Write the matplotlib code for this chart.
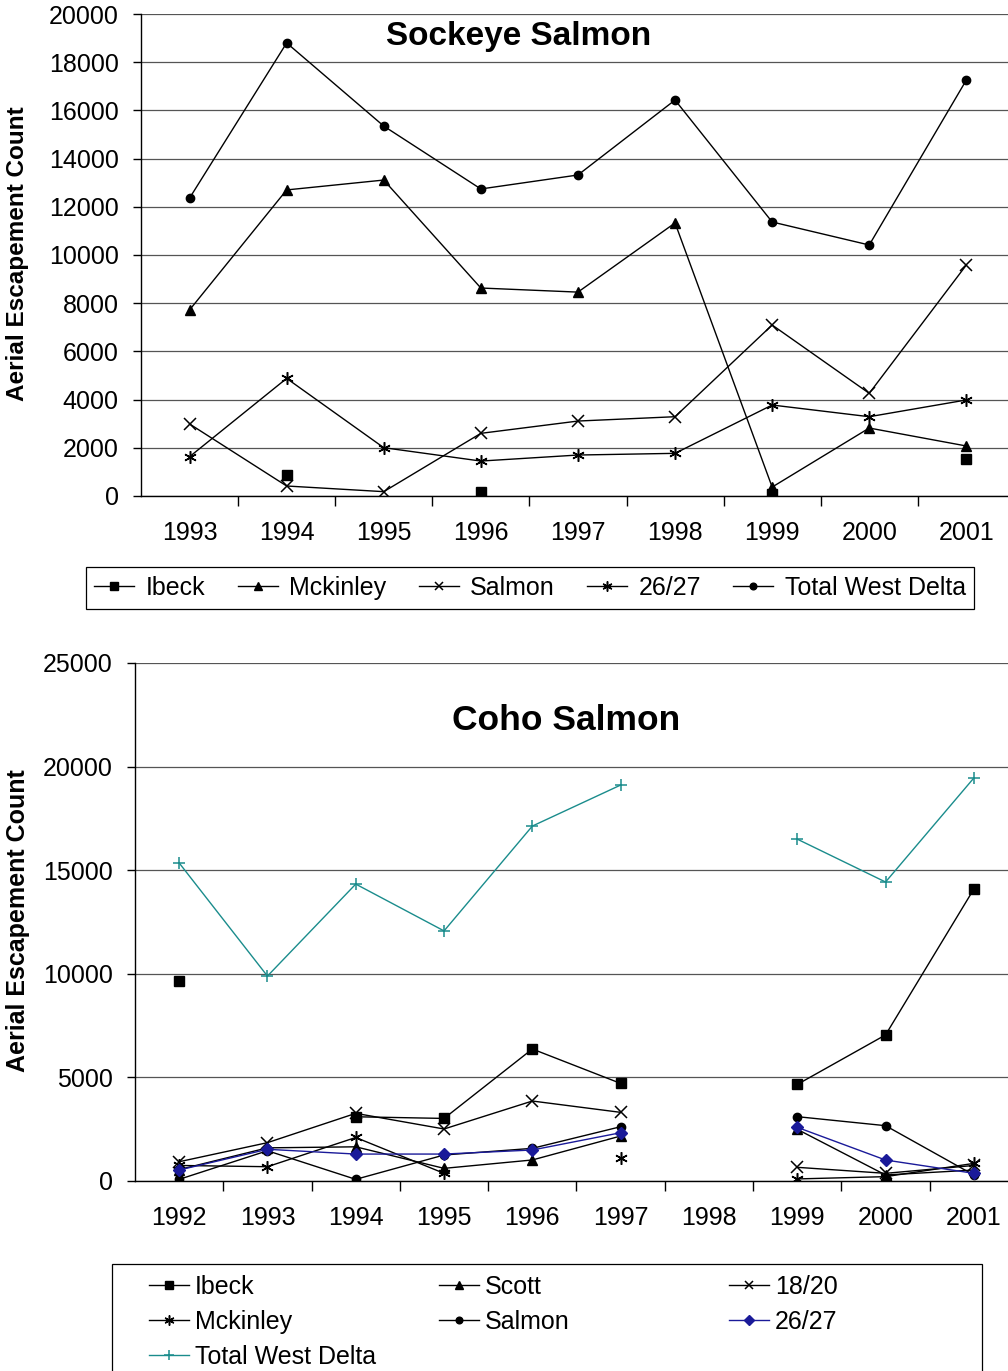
import numpy as np
import matplotlib
matplotlib.use("Agg")
import matplotlib.pyplot as plt
from matplotlib.patches import Rectangle

plt.rcParams['font.family'] = ['Liberation Sans', 'DejaVu Sans']

nan = np.nan

# Sockeye salmon aerial counts
sock_years = ['1993', '1994', '1995', '1996', '1997', '1998', '1999', '2000', '2001']
sock_ibeck = [nan, 870, nan, 180, nan, nan, 100, nan, 1535]
sock_mckinley = [7720, 12700, 13110, 8630, 8460, 11330, 370, 2820, 2075]
sock_salmon = [2990, 415, 180, 2600, 3110, 3290, 7095, 4260, 9585]
sock_2627 = [1630, 4880, 2005, 1450, 1700, 1770, 3775, 3290, 3985]
sock_total = [12360, 18800, 15350, 12740, 13320, 16430, 11370, 10415, 17260]

# Coho salmon aerial counts (no survey in 1998)
coho_years = ['1992', '1993', '1994', '1995', '1996', '1997', '1998', '1999', '2000', '2001']
coho_ibeck = [9650, nan, 3100, 3020, 6370, 4710, nan, 4660, 7050, 14090]
coho_scott = [550, 1600, 1650, 610, 1015, 2170, nan, 2495, 290, 530]
coho_1820 = [930, 1850, 3265, 2510, 3860, 3313, nan, 660, 370, 750]
coho_mckinley = [750, 690, 2100, 370, nan, 1095, nan, 100, 210, 850]
coho_salmon = [80, 1460, 80, 1255, 1576, 2620, nan, 3105, 2670, 290]
coho_2627 = [530, 1530, 1300, 1300, 1496, 2330, nan, 2590, 1013, 370]
coho_total = [15350, 9890, 14330, 12070, 17130, 19110, nan, 16500, 14430, 19450]

ASTER = (6, 2, 0)
TEAL = '#1a8c8c'
NAVY = '#1a1a99'
FS = 18

W, H = 1008, 1371
fig = plt.figure(figsize=(W / 100, H / 100), dpi=100)


def fx(px):
    return px / W


def fy(py):
    return 1 - py / H


def setup_axes(ax, labels, ymax, ystep):
    n = len(labels)
    ax.set_ylim(0, ymax)
    ax.set_yticks(np.arange(0, ymax + 1, ystep))
    ax.yaxis.grid(True, color='#555555', lw=0.9)
    ax.set_axisbelow(True)
    for s in ['top', 'right']:
        ax.spines[s].set_visible(False)
    for s in ['left', 'bottom']:
        ax.spines[s].set_linewidth(1.0)
        ax.spines[s].set_color('black')
    # boundary tick marks, labels at category centres
    ax.set_xticks(np.arange(0.5, n - 0.5, 1))
    ax.set_xticklabels([])
    ax.set_xticks(np.arange(n), minor=True)
    ax.set_xticklabels(labels, minor=True)
    ax.tick_params(axis='x', which='major', length=7, width=1, direction='out')
    ax.tick_params(axis='x', which='minor', length=0, pad=18, labelsize=FS)
    ax.tick_params(axis='y', length=6, width=1, direction='out', pad=10, labelsize=FS)


# ---- Sockeye ----
ax1 = fig.add_axes([fx(141), fy(496), fx(1008 - 141), fy(14) - fy(496)])
x1 = np.arange(len(sock_years))
ax1.plot(x1, sock_ibeck, color='k', lw=1.0, marker='s', ms=6.5, label='Ibeck')
ax1.plot(x1, sock_mckinley, color='k', lw=1.0, marker='^', ms=7, label='Mckinley')
ax1.plot(x1, sock_salmon, color='k', lw=1.0, marker='x', ms=8, mew=1.1, label='Salmon')
ax1.plot(x1, sock_2627, color='k', lw=1.0, marker=ASTER, ms=9, mew=1.1, label='26/27')
ax1.plot(x1, sock_total, color='k', lw=1.0, marker='o', ms=6, label='Total West Delta')
setup_axes(ax1, sock_years, 20000, 2000)
ax1.set_xlim(-0.5, -0.5 + (1008 - 141) / 97.1)
ax1.text((519 - 141) / 867, (496 - 36) / 482, 'Sockeye Salmon', transform=ax1.transAxes,
         ha='center', va='center', fontsize=24, fontweight='bold')
fig.text(fx(18), fy(254), 'Aerial Escapement Count', rotation=90, ha='center', va='center',
         fontsize=17.5, fontweight='bold')

leg1 = fig.legend(handles=ax1.get_lines(), loc='center', bbox_to_anchor=(fx(530), fy(588)),
                  ncol=5, fontsize=FS, handlelength=1.6, handletextpad=0.45,
                  columnspacing=1.3, borderpad=0.35, fancybox=False, edgecolor='k',
                  framealpha=1, markerscale=0.8)
leg1.get_frame().set_linewidth(0.9)

# ---- Coho ----
ax2 = fig.add_axes([fx(135), fy(1181), fx(1008 - 135), fy(663) - fy(1181)])
x2 = np.arange(len(coho_years))
h_ibeck, = ax2.plot(x2, coho_ibeck, color='k', lw=1.0, marker='s', ms=6.5, label='Ibeck')
h_scott, = ax2.plot(x2, coho_scott, color='k', lw=1.0, marker='^', ms=7, label='Scott')
h_1820, = ax2.plot(x2, coho_1820, color='k', lw=1.0, marker='x', ms=8, mew=1.1, label='18/20')
h_mck, = ax2.plot(x2, coho_mckinley, color='k', lw=1.0, marker=ASTER, ms=9, mew=1.1, label='Mckinley')
h_salm, = ax2.plot(x2, coho_salmon, color='k', lw=1.0, marker='o', ms=6, label='Salmon')
h_2627, = ax2.plot(x2, coho_2627, color=NAVY, lw=1.0, marker='D', ms=6, label='26/27')
h_tot, = ax2.plot(x2, coho_total, color=TEAL, lw=1.0, marker='+', ms=9, mew=1.1,
                  label='Total West Delta')
setup_axes(ax2, coho_years, 25000, 5000)
ax2.set_xlim(-0.5, -0.5 + (1008 - 135) / 88.3)
ax2.text((566 - 135) / 873, (1181 - 720) / 518, 'Coho Salmon', transform=ax2.transAxes,
         ha='center', va='center', fontsize=25.5, fontweight='bold')
fig.text(fx(18), fy(921), 'Aerial Escapement Count', rotation=90, ha='center', va='center',
         fontsize=18, fontweight='bold')

# three-column legend with a shared frame running off the bottom edge
fig.patches.append(Rectangle((fx(112), fy(1400)), fx(982 - 112), fy(1264) - fy(1400),
                             transform=fig.transFigure, fill=False, edgecolor='k', lw=0.9))
columns = [([h_ibeck, h_mck, h_tot], 131), ([h_scott, h_salm], 421), ([h_1820, h_2627], 711)]
for hs, xp in columns:
    fig.legend(handles=hs, loc='upper left', bbox_to_anchor=(fx(xp), fy(1257)),
               fontsize=FS, handlelength=1.6, handletextpad=0.25, labelspacing=0.45,
               borderpad=0.2, frameon=False, markerscale=0.8)

fig.savefig('out.png', dpi=100)
